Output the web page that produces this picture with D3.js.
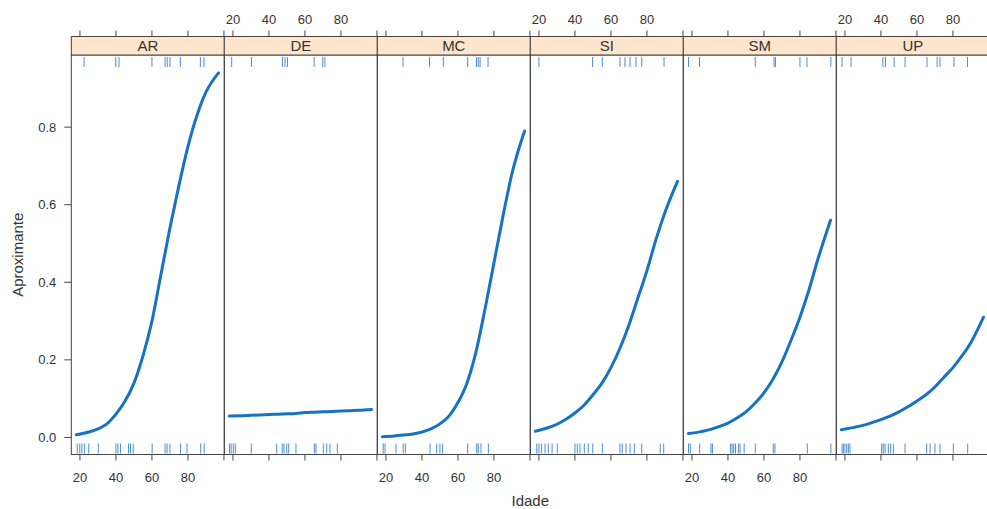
<!DOCTYPE html>
<html>
<head>
  <title>Aproximante por Idade</title>
  <style>
    body {
      margin: 0;
      background: white;
      font-family: "Liberation Sans", Arial, sans-serif;
    }
    svg text { fill: #333; }
    .frame { fill: none; stroke: #444; stroke-width: 1; }
    .strip { fill: #ffe5cc; stroke: #444; stroke-width: 1; }
    .tick { stroke: #444; stroke-width: 1; }
    .rug { stroke: #4a8fd6; stroke-width: 1; }
    .fit { fill: none; stroke: #1673c4; stroke-width: 3; stroke-linecap: round; }
  </style>
</head>
<body>
  <div id="chart"></div>

  <script src="https://cdn.jsdelivr.net/npm/d3@7"></script>
  <script>
    // panel names, in the order drawn
    const groups = ['AR', 'DE', 'MC', 'SI', 'SM', 'UP'];

    // ages where the fitted curves were read
    const ages = [18, 25, 30, 35, 40, 45, 50, 55, 60, 65, 70, 75, 80, 85, 90, 97];
    const fitAR = [0.007, 0.014, 0.022, 0.035, 0.06, 0.093, 0.14, 0.21, 0.30, 0.42, 0.54, 0.65, 0.75, 0.83, 0.89, 0.94];
    const fitDE = [0.055, 0.056, 0.057, 0.058, 0.059, 0.060, 0.061, 0.062, 0.064, 0.065, 0.066, 0.067, 0.068, 0.069, 0.070, 0.072];
    const fitMC = [0.002, 0.004, 0.006, 0.009, 0.014, 0.022, 0.035, 0.055, 0.09, 0.14, 0.22, 0.33, 0.45, 0.57, 0.68, 0.79];
    const fitSI = [0.016, 0.025, 0.034, 0.047, 0.063, 0.083, 0.11, 0.14, 0.18, 0.23, 0.29, 0.36, 0.43, 0.51, 0.58, 0.66];
    const fitSM = [0.01, 0.015, 0.02, 0.028, 0.037, 0.05, 0.066, 0.088, 0.115, 0.15, 0.195, 0.25, 0.31, 0.38, 0.46, 0.56];
    const fitUP = [0.02, 0.026, 0.031, 0.038, 0.046, 0.055, 0.066, 0.079, 0.094, 0.11, 0.13, 0.155, 0.18, 0.21, 0.245, 0.31];

    // rug ages: top = Aproximante 1, bottom = Aproximante 0
    const rugTopAR = [22.3, 39.9, 41.7, 60, 67.3, 68.5, 70, 75.8, 86.9, 88.9];
    const rugTopDE = [19.3, 30.3, 47.5, 48.9, 50.3, 65.1, 69.9, 71.1];
    const rugTopMC = [29.5, 44.2, 51.9, 65.4, 70.3, 71.3, 72.3, 76.7];
    const rugTopSI = [20, 49.8, 55.2, 65, 67.8, 70.6, 73.9, 77.1, 89.5];
    const rugTopSM = [18.1, 24.2, 55.2, 65.6, 66.4, 80, 83.9, 97.2];
    const rugTopUP = [18.4, 23.4, 41.1, 42.5, 47.3, 53.4, 65.6, 71.2, 72.8, 80.6, 88.1];

    const rugBotAR = [18.5, 19.9, 21.1, 22.6, 24.9, 30.2, 40, 41.1, 42.5, 47, 48.1, 49.6, 60.1, 67.3, 68.4, 70, 75.9, 79.5, 87.1, 89];
    const rugBotDE = [18.1, 19, 20.2, 21.3, 30.2, 44.3, 47.4, 48.4, 49.9, 51, 55, 65.2, 66.1, 70.2, 72.1, 73.9, 78];
    const rugBotMC = [18.5, 19.5, 25.6, 29.6, 30.8, 44.5, 48.2, 50, 51.5, 65.4, 70.4, 71.3, 72.8, 76.9];
    const rugBotSI = [18.8, 20, 21.5, 23.4, 25.2, 27.3, 30.2, 40, 41.3, 42.8, 45.2, 47.4, 49.9, 55.2, 65, 66.3, 68.4, 70.6, 73, 77.1, 87.4, 89.3];
    const rugBotSM = [18.1, 19.1, 24.3, 30.6, 31.4, 41.4, 42.3, 43.2, 44.2, 45.8, 46.7, 49, 55.2, 65.2, 66.1, 84.1, 97.2];
    const rugBotUP = [18.4, 19.1, 20, 21, 21.9, 22.8, 40.4, 41.3, 42.3, 44.1, 45.4, 46.9, 53.4, 65.4, 67.3, 70, 72.8, 80.2, 88.2];

    const xTicks = [20, 40, 60, 80, 100];
    const xTickLabels = ['20', '40', '60', '80', ''];
    const yTicks = [0, 0.2, 0.4, 0.6, 0.8];

    const fits = [fitAR, fitDE, fitMC, fitSI, fitSM, fitUP];
    const rugTops = [rugTopAR, rugTopDE, rugTopMC, rugTopSI, rugTopSM, rugTopUP];
    const rugBots = [rugBotAR, rugBotDE, rugBotMC, rugBotSI, rugBotSM, rugBotUP];

    const width = 987, height = 509;
    const left = 71.3, panelW = 153;
    const stripTop = 36.5, stripH = 18.5;
    const panelTop = stripTop + stripH, panelBottom = 454.5;
    const tickLen = 6, rugLen = 10;

    let svg = d3.select('#chart').append('svg')
      .attr('width', width)
      .attr('height', height);

    let y = d3.scaleLinear().domain([-0.044, 0.986]).range([panelBottom, panelTop]);

    let line = d3.line().curve(d3.curveMonotoneX);

    groups.forEach((name, i) => {
      let x0 = left + i * panelW;
      let x = d3.scaleLinear().domain([15.2, 100.2]).range([x0, x0 + panelW]);
      let g = svg.append('g');

      // top and bottom tick marks on every panel
      g.selectAll('.ttick').data(xTicks).enter().append('line')
        .attr('class', 'tick')
        .attr('x1', d => x(d)).attr('x2', d => x(d))
        .attr('y1', stripTop - tickLen).attr('y2', stripTop);
      g.selectAll('.btick').data(xTicks).enter().append('line')
        .attr('class', 'tick')
        .attr('x1', d => x(d)).attr('x2', d => x(d))
        .attr('y1', panelBottom).attr('y2', panelBottom + tickLen);

      // labels alternate: bottom on odd panels, top on even
      let labelY = i % 2 === 0 ? panelBottom + 27 : stripTop - 13;
      g.selectAll('.xlab').data(xTicks).enter().append('text')
        .attr('x', d => x(d))
        .attr('y', labelY)
        .attr('text-anchor', 'middle')
        .attr('font-size', 13)
        .text((d, k) => xTickLabels[k]);

      // rugs
      g.selectAll('.rugt').data(rugTops[i]).enter().append('line')
        .attr('class', 'rug')
        .attr('x1', d => x(d)).attr('x2', d => x(d))
        .attr('y1', panelTop + 2).attr('y2', panelTop + 2 + rugLen);
      g.selectAll('.rugb').data(rugBots[i]).enter().append('line')
        .attr('class', 'rug')
        .attr('x1', d => x(d)).attr('x2', d => x(d))
        .attr('y1', panelBottom - 1).attr('y2', panelBottom - 1 - rugLen);

      // fitted curve
      g.append('path')
        .attr('class', 'fit')
        .attr('d', line(ages.map((a, k) => [x(a), y(fits[i][k])])));

      // frame + strip
      g.append('rect')
        .attr('class', 'frame')
        .attr('x', x0).attr('y', panelTop)
        .attr('width', panelW).attr('height', panelBottom - panelTop);
      g.append('rect')
        .attr('class', 'strip')
        .attr('x', x0).attr('y', stripTop)
        .attr('width', panelW).attr('height', stripH);
      g.append('text')
        .attr('x', x0 + panelW / 2)
        .attr('y', stripTop + stripH / 2 + 5.5)
        .attr('text-anchor', 'middle')
        .attr('font-size', 15)
        .text(name);
    });

    // y axis on the first panel
    svg.selectAll('.ytick').data(yTicks).enter().append('line')
      .attr('class', 'tick')
      .attr('x1', left - tickLen - 1).attr('x2', left)
      .attr('y1', d => y(d)).attr('y2', d => y(d));
    svg.selectAll('.ylab').data(yTicks).enter().append('text')
      .attr('x', left - 15)
      .attr('y', d => y(d) + 4.5)
      .attr('text-anchor', 'end')
      .attr('font-size', 13)
      .text(d => d3.format('.1f')(d));

    svg.append('text')
      .attr('transform', `translate(23,${(panelTop + panelBottom) / 2}) rotate(-90)`)
      .attr('text-anchor', 'middle')
      .attr('font-size', 15)
      .text('Aproximante');

    svg.append('text')
      .attr('x', left + panelW * 3)
      .attr('y', 506)
      .attr('text-anchor', 'middle')
      .attr('font-size', 15)
      .text('Idade');
  </script>
</body>
</html>
